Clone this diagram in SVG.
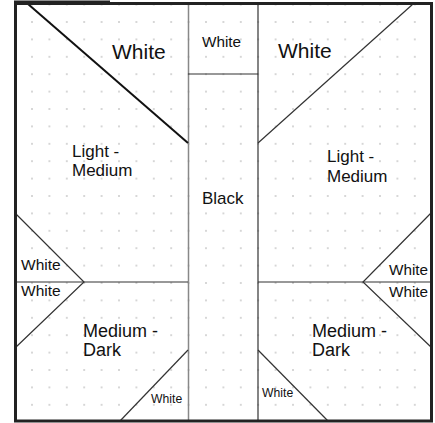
<svg xmlns="http://www.w3.org/2000/svg" width="435" height="423" viewBox="0 0 435 423">
<defs>
<pattern id="dots" patternUnits="userSpaceOnUse" x="23.3" y="13.3" width="17.4" height="17.4">
<circle cx="8.7" cy="8.7" r="0.9" fill="#c4c4c4"/>
</pattern>
</defs>
<style>
.t{font-family:"Liberation Sans",Arial,sans-serif;fill:#111}
.ln{stroke:#333;stroke-width:1.2;fill:none}
.lg{stroke:#888;stroke-width:1.5;fill:none}
</style>
<rect width="435" height="423" fill="#fff"/>
<rect x="15" y="4" width="417" height="417" fill="url(#dots)"/>
<g id="lines">
<line class="lg" x1="188.5" y1="4" x2="188.5" y2="421"/>
<line class="ln" x1="258" y1="4" x2="258" y2="421"/>
<line class="ln" x1="188" y1="74" x2="258" y2="74"/>
<line stroke="#111" stroke-width="2" x1="28" y1="4" x2="188" y2="143"/>
<line class="ln" x1="413" y1="4" x2="258" y2="143"/>
<line class="ln" x1="15" y1="282" x2="188" y2="282"/>
<line class="ln" x1="258" y1="282" x2="432" y2="282"/>
<polyline class="ln" points="15,213 84,282 15,348" stroke-width="1"/>
<polyline class="ln" points="432,212 363,282 432,348" stroke-width="1"/>
<line class="ln" stroke-width="1" x1="188" y1="350" x2="120" y2="421"/>
<line class="ln" stroke-width="1" x1="258" y1="350" x2="328" y2="421"/>
</g>
<rect x="15.5" y="3.5" width="416" height="417.5" fill="none" stroke="#222" stroke-width="3"/>
<rect x="14" y="0.5" width="96" height="4.5" fill="#222"/>
<g id="labels">
<text class="t" x="112" y="59" font-size="21">White</text>
<text class="t" x="202" y="47" font-size="15.3">White</text>
<text class="t" x="278" y="58" font-size="21">White</text>
<text class="t" x="72" y="157" font-size="17">Light -</text>
<text class="t" x="72" y="176" font-size="17">Medium</text>
<text class="t" x="327" y="162" font-size="17">Light -</text>
<text class="t" x="327" y="182" font-size="17">Medium</text>
<text class="t" x="202" y="204" font-size="17">Black</text>
<text class="t" x="21" y="270" font-size="15.5">White</text>
<text class="t" x="21" y="296" font-size="15.5">White</text>
<text class="t" x="389" y="275" font-size="15.3">White</text>
<text class="t" x="389" y="297" font-size="15.3">White</text>
<text class="t" x="83" y="337" font-size="18">Medium -</text>
<text class="t" x="83" y="356" font-size="18">Dark</text>
<text class="t" x="312" y="337" font-size="18">Medium -</text>
<text class="t" x="312" y="356" font-size="18">Dark</text>
<text class="t" x="151" y="403" font-size="12.2">White</text>
<text class="t" x="262" y="397" font-size="12.2">White</text>
</g>
</svg>
